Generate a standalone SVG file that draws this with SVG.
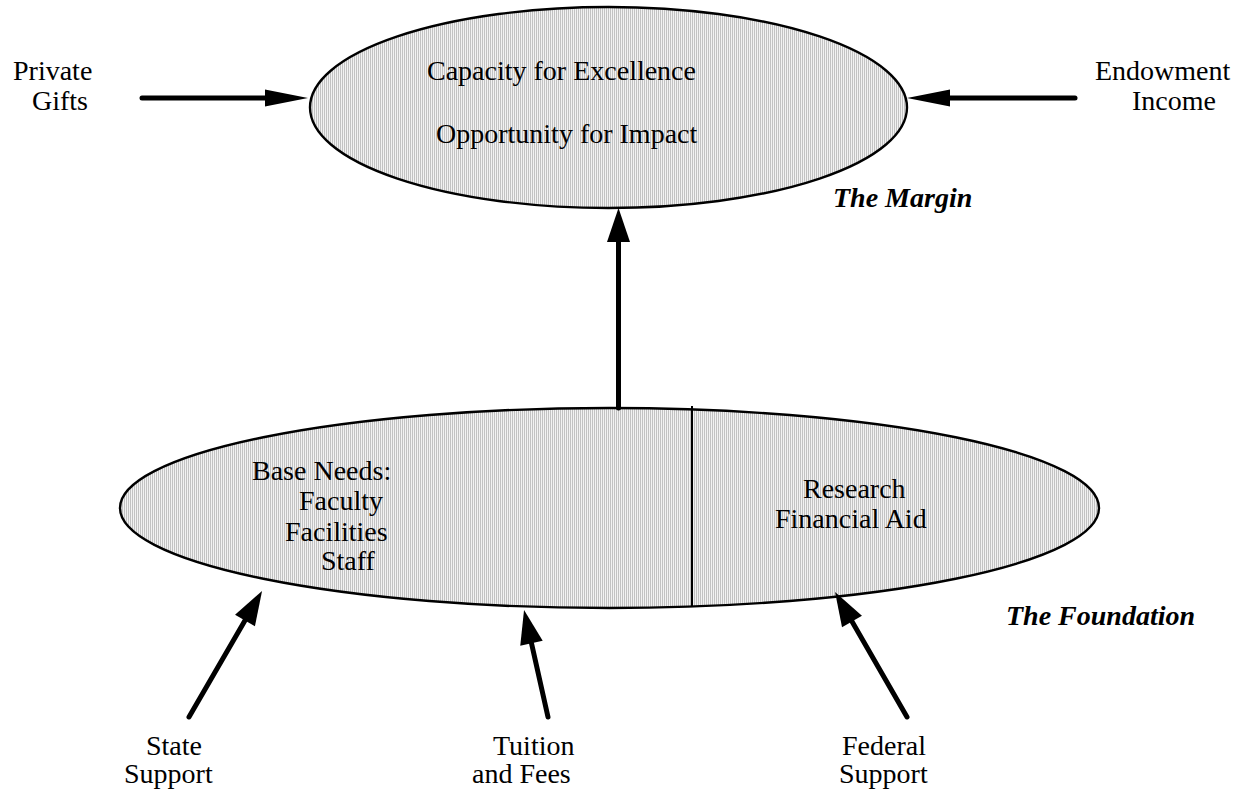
<svg xmlns="http://www.w3.org/2000/svg" width="1235" height="792" viewBox="0 0 1235 792">
  <style>
    .t { font-family: "Liberation Serif", "Times New Roman", Tinos, "DejaVu Serif", serif; font-size: 28px; font-weight: normal; font-style: normal; fill: #000; }
    .lbl { font-family: "Liberation Serif", "Times New Roman", Tinos, "DejaVu Serif", serif; font-size: 28px; font-weight: bold; font-style: italic; fill: #000; }
    .shape { fill: url(#stip); stroke: #000; stroke-width: 2.4; }
    .div { stroke: #000; stroke-width: 2; fill: none; }
    .arr { stroke: #000; stroke-width: 5; stroke-linecap: round; fill: none; }
    .h { marker-end: url(#headH); }
    .v { marker-end: url(#headV); }
  </style>
  <defs>
    <pattern id="stip" width="2" height="2" patternUnits="userSpaceOnUse">
      <rect width="2" height="2" fill="#f2f2f2"/>
      <rect width="1" height="2" fill="#c2c2c2"/>
    </pattern>
    <marker id="headH" markerUnits="userSpaceOnUse" viewBox="-5 -10 46 20" refX="0" refY="0" markerWidth="46" markerHeight="20" orient="auto" overflow="visible">
      <path d="M-4,-8.5 L39,0 L-4,8.5 Z" fill="#000"/>
    </marker>
    <marker id="headV" markerUnits="userSpaceOnUse" viewBox="-5 -12 37 24" refX="0" refY="0" markerWidth="37" markerHeight="24" orient="auto" overflow="visible">
      <path d="M-4,-11.5 L30,0 L-4,11.5 Z" fill="#000"/>
    </marker>
  </defs>
  <rect width="1235" height="792" fill="#fff"/>

  <g id="margin">
    <ellipse class="shape" cx="608.5" cy="107.5" rx="298.5" ry="100.5"/>
    <text class="t" x="427" y="80">Capacity for Excellence</text>
    <text class="t" x="436" y="143">Opportunity for Impact</text>
  </g>

  <g id="margin-label">
    <text class="lbl" x="833" y="207">The Margin</text>
  </g>

  <g id="foundation">
    <ellipse class="shape" cx="609.5" cy="508" rx="489.5" ry="100"/>
    <line class="div" x1="692" y1="406" x2="692" y2="607"/>
    <text class="t" x="252" y="480">Base Needs:</text>
    <text class="t" x="299" y="510">Faculty</text>
    <text class="t" x="285" y="541">Facilities</text>
    <text class="t" x="321" y="570">Staff</text>
    <text class="t" x="803" y="498">Research</text>
    <text class="t" x="775" y="528">Financial Aid</text>
  </g>

  <g id="foundation-label">
    <text class="lbl" x="1006" y="625">The Foundation</text>
  </g>

  <g id="private-gifts">
    <text class="t" x="13" y="80">Private</text>
    <text class="t" x="32" y="110">Gifts</text>
  </g>

  <g id="endowment-income">
    <text class="t" x="1095" y="80">Endowment</text>
    <text class="t" x="1132" y="110">Income</text>
  </g>

  <g id="state-support">
    <text class="t" x="146" y="755">State</text>
    <text class="t" x="124" y="783">Support</text>
  </g>

  <g id="tuition-fees">
    <text class="t" x="493" y="755">Tuition</text>
    <text class="t" x="472" y="783">and Fees</text>
  </g>

  <g id="federal-support">
    <text class="t" x="842" y="755">Federal</text>
    <text class="t" x="839" y="783">Support</text>
  </g>

  <g id="connectors">
    <line class="arr h" x1="142" y1="98" x2="269" y2="98"/>
    <line class="arr h" x1="1075" y1="98" x2="946" y2="98"/>
    <line class="arr v" x1="618.5" y1="408" x2="618.5" y2="238"/>
    <line class="arr v" x1="189" y1="717" x2="247" y2="617"/>
    <line class="arr v" x1="548" y1="717" x2="530.6" y2="639.3"/>
    <line class="arr v" x1="907" y1="717" x2="850" y2="618"/>
  </g>
</svg>
